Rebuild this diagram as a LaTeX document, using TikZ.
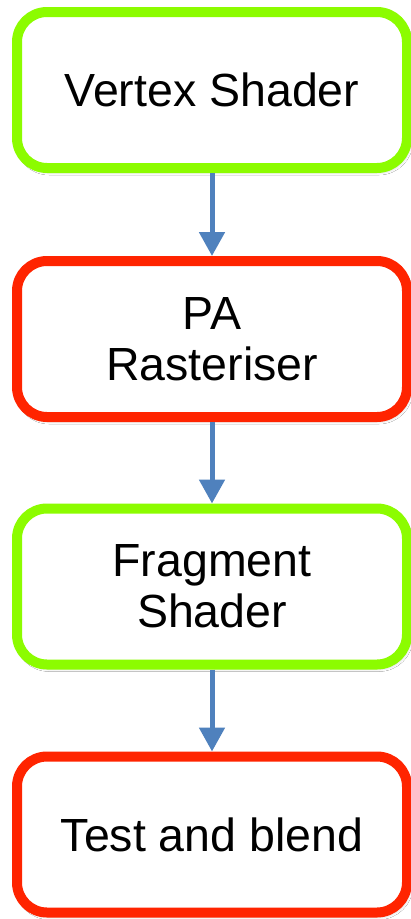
\documentclass[tikz,border=0pt]{standalone}
\usepackage{fontspec}
\setmainfont{Liberation Sans}
\usetikzlibrary{arrows.meta,shadows.blur}
\definecolor{boxgreen}{HTML}{8CFC00}
\definecolor{boxred}{HTML}{FF2400}
\definecolor{arrowblue}{HTML}{4F81BD}
\begin{document}
\begin{tikzpicture}[x=1pt,y=-1pt,
  stage/.style={rectangle, rounded corners=30pt, fill=white, line width=10pt,
    minimum width=390pt, minimum height=156pt, inner sep=0pt, align=center,
    font=\fontsize{46.5}{51}\selectfont,
    blur shadow={shadow xshift=2pt, shadow yshift=-3pt, shadow blur steps=6,
      shadow blur radius=4pt, shadow opacity=30}},
  greenstage/.style={stage, draw=boxgreen},
  redstage/.style={stage, draw=boxred},
  flow/.style={draw=arrowblue, line width=5pt,
    -{Triangle[width=25pt,length=24pt]}, arrowblue}]
\useasboundingbox (0,0) rectangle (411,919);
\fill[white] (0,0) rectangle (411,919);
\node[greenstage] (vs) at (212,90) {Vertex Shader};
\node[redstage] (pa) at (212,339) {PA\\Rasteriser};
\node[greenstage] (fs) at (212,586.5) {Fragment\\Shader};
\node[redstage] (tb) at (212,834.5) {Test and blend};
\draw[flow] (vs.south) -- (pa.north);
\draw[flow] (pa.south) -- (fs.north);
\draw[flow] (fs.south) -- (tb.north);
\end{tikzpicture}
\end{document}
